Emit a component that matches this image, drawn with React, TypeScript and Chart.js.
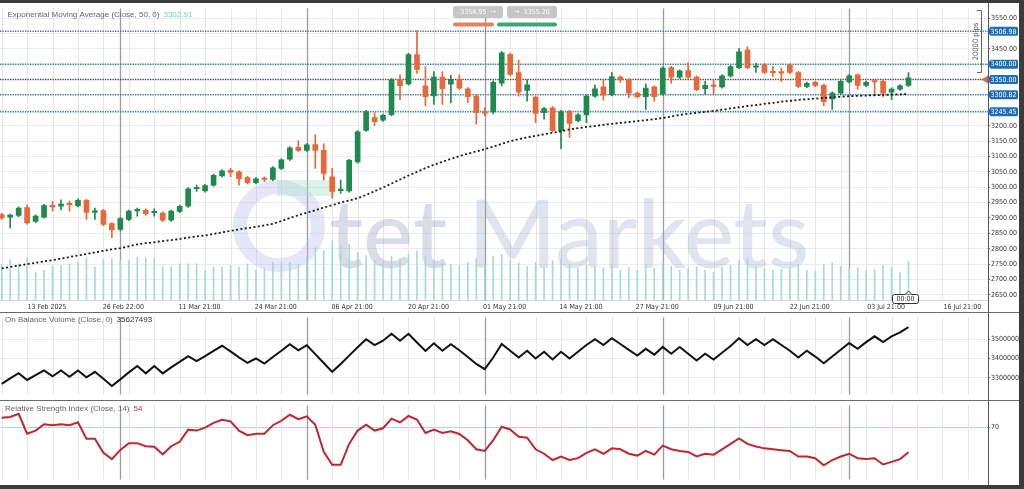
import React, { useEffect, useRef } from 'react';
import { Chart, registerables } from 'chart.js';

Chart.register(...registerables);

// ---------------- data ----------------
const OPEN = [2911,2903,2908,2934,2889,2903,2938,2938,2946,2940,2957,2918,2924,2882,2863,2895,2923,2925,2917,2916,2893,2921,2938,2995,2988,3007,3037,3055,3050,3031,3015,3027,3025,3061,3091,3130,3120,3139,3120,3034,2989,2988,3082,3185,3226,3218,3236,3349,3336,3431,3330,3297,3358,3335,3351,3320,3296,3242,3245,3338,3432,3373,3315,3293,3242,3258,3184,3246,3216,3235,3296,3326,3301,3358,3349,3306,3294,3326,3303,3389,3358,3379,3358,3320,3333,3326,3362,3389,3447,3390,3397,3374,3373,3397,3373,3328,3341,3331,3287,3306,3342,3365,3331,3344,3344,3309,3319,3331];
const HIGH = [2915,2913,2936,2943,2910,2944,2954,2959,2955,2962,2961,2932,2928,2885,2902,2926,2932,2930,2930,2920,2926,2942,2999,3007,3009,3043,3057,3061,3054,3035,3031,3034,3067,3093,3132,3152,3142,3171,3141,3061,3023,3091,3184,3250,3242,3238,3353,3365,3435,3509,3392,3376,3376,3364,3365,3324,3300,3258,3346,3442,3436,3413,3349,3297,3260,3262,3250,3250,3239,3300,3333,3349,3373,3362,3353,3310,3336,3330,3391,3393,3382,3405,3362,3345,3349,3366,3396,3451,3457,3403,3401,3392,3387,3401,3377,3342,3345,3335,3310,3348,3366,3369,3345,3349,3348,3323,3334,3373];
const LOW = [2895,2868,2904,2880,2885,2899,2922,2926,2922,2936,2895,2895,2875,2836,2858,2891,2906,2908,2906,2888,2889,2917,2934,2986,2984,3003,3033,3034,3007,3011,3011,3018,3021,3057,3087,3116,3116,3061,3023,2964,2980,2984,3078,3181,3200,3214,3232,3285,3332,3370,3264,3269,3269,3274,3318,3274,3205,3232,3238,3329,3363,3296,3280,3210,3221,3180,3125,3162,3212,3210,3292,3283,3297,3341,3290,3290,3253,3280,3299,3338,3354,3354,3313,3301,3301,3322,3358,3385,3385,3373,3369,3360,3344,3369,3324,3324,3327,3264,3253,3302,3338,3319,3327,3303,3294,3285,3315,3327];
const CLOSE = [2900,2909,2932,2884,2906,2940,2936,2945,2943,2957,2918,2922,2879,2861,2898,2922,2926,2914,2919,2893,2922,2938,2995,2997,3005,3039,3053,3048,3027,3015,3027,3025,3063,3089,3128,3120,3138,3120,3045,2986,2992,3087,3180,3246,3213,3234,3349,3330,3431,3383,3294,3358,3320,3351,3322,3294,3242,3240,3341,3437,3367,3309,3333,3240,3256,3184,3246,3207,3235,3296,3320,3299,3360,3349,3306,3294,3322,3294,3387,3358,3378,3358,3317,3331,3328,3362,3392,3440,3389,3392,3373,3372,3371,3373,3328,3338,3331,3278,3306,3344,3362,3331,3341,3342,3306,3319,3330,3356];
// tick volume (thousands)
const VOLUME = [36,40.7,36.7,42.7,28.3,30,35,35,36.7,38.3,42.7,33.3,41.7,41.7,40,40,43.3,42.7,41.7,34,34,36.7,36.7,36.7,30,33.3,33.3,35,33.3,36.7,30,31.7,38.3,38.3,38.3,36.7,43.3,53.3,50,60,55,56.7,48.3,45,40,38,44,42,46,50,44,40,38,36,35,38,42,36,44,46,40,38,34,38,33,40,42,36,32,36,34,33,36,30,33,30,35,32,38,34,30,32,34,30,28,33,35,40,42,34,32,30,31,33,36,30,29,36,38,34,32,33,30,31,35,33,28,39];
const EMA50 = [2736,2741,2745,2750,2754,2759,2763,2768,2773,2778,2783,2788,2793,2798,2802,2808,2814,2818,2821,2825,2828,2832,2836,2840,2843,2848,2853,2858,2863,2867,2871,2876,2881,2890,2900,2909,2917,2925,2934,2942,2950,2957,2964,2975,2987,2999,3012,3025,3038,3050,3062,3073,3083,3092,3101,3109,3116,3124,3132,3141,3150,3156,3162,3167,3172,3177,3182,3188,3192,3196,3199,3203,3206,3209,3212,3215,3218,3221,3225,3230,3235,3239,3242,3245,3248,3252,3256,3260,3264,3267,3271,3274,3278,3281,3284,3286,3288,3290,3292,3294,3296,3297,3298,3299,3300,3301,3302,3302.91];
// On Balance Volume, millions
const OBV_M = [32.69,32.97,33.24,32.89,33.14,33.38,33.08,33.38,33.05,33.38,33.03,33.31,32.95,32.58,32.92,33.28,33.61,33.23,33.61,33.23,33.54,33.83,34.12,33.86,34.12,34.40,34.66,34.37,34.06,33.77,34.00,33.74,34.08,34.40,34.74,34.42,34.69,34.23,33.77,33.31,33.72,34.15,34.58,35.00,34.69,34.92,35.28,34.92,35.28,34.83,34.39,34.79,34.40,34.74,34.43,34.08,33.72,33.45,34.05,34.75,34.40,34.05,34.40,34.00,34.35,33.95,34.35,34.00,34.35,34.70,35.00,34.70,35.05,34.75,34.45,34.15,34.50,34.20,34.60,34.25,34.60,34.25,33.90,34.25,33.95,34.30,34.65,35.05,34.70,35.00,34.70,35.00,34.70,34.40,34.05,34.40,34.10,33.75,34.10,34.45,34.80,34.50,34.85,35.15,34.85,35.15,35.35,35.63];
const RSI14 = [76.4,77.0,79.0,66.1,68.1,72.2,71.6,72.2,71.6,73.5,62.8,62.8,53.6,49.5,55.5,59.9,59.9,57.9,57.5,52.6,57.9,60.8,68.7,68.1,70.0,73.1,75.1,74.1,68.1,65.1,66.1,66.1,71.6,74.5,78.4,75.5,77.4,71.9,54.3,45.8,45.8,59.4,68.1,71.9,68.1,69.6,75.9,73.5,77.6,75.3,66.5,68.8,66.5,67.7,65.9,61.8,55.9,54.8,61.8,70.6,68.8,64.1,63.5,55.9,53.0,48.9,51.2,48.9,50.1,53.6,55.9,53.0,56.5,55.9,53.0,51.8,54.8,52.4,58.3,55.9,54.8,54.2,51.2,53.0,52.4,55.9,59.4,63.0,59.4,57.7,56.5,55.9,55.3,54.8,51.2,51.2,50.1,45.4,48.9,51.2,53.0,50.1,49.5,50.1,46.0,47.7,49.5,54.0];

const LABEL_BARS = [5, 14, 23, 32, 41, 50, 59, 68, 77, 86, 95, 104, 113];
const X_LABELS = ['13 Feb 2025', '26 Feb 22:00', '11 Mar 21:00', '24 Mar 21:00', '06 Apr 21:00', '20 Apr 21:00', '01 May 21:00', '14 May 21:00', '27 May 21:00', '09 Jun 21:00', '22 Jun 21:00', '03 Jul 21:00', '16 Jul 21:00'];
const PERIOD_BARS = [14, 36, 57, 78, 100];
const PRICE_TICKS = [2650,2700,2750,2800,2850,2900,2950,3000,3050,3100,3150,3200,3250,3300,3350,3400,3450,3500,3550];
const LEVELS = [3506.98, 3400.0, 3300.82, 3245.45];
const CURRENT_PRICE = 3350.0;
const OBV_TICKS = [33, 34, 35];
const RSI_TICKS = [70];
const EMA_LAST = '3302.91';
const OBV_LAST = '35627493';
const RSI_LAST = '54';

// ---------------- styling ----------------
const W = 1019;
const X_MIN = -0.2;
const X_MAX = 116.38;
const LABEL_SHIFT = 0.35;
const GREEN = '#1e8a4e';
const ORANGE = '#e8683b';
const AXIS_FONT = "'DejaVu Sans Condensed', 'DejaVu Sans', sans-serif";
const TITLE_FONT = "'Liberation Sans', Arial, sans-serif";
const AXIS_X = 988.5;

const candleColors = CLOSE.map((c, i) => (c >= OPEN[i] ? GREEN : ORANGE));

function drawVGrid(chart) {
  const { ctx, chartArea: a, scales } = chart;
  const x = scales.x;
  ctx.save();
  ctx.beginPath();
  ctx.rect(a.left, a.top, a.right - a.left, a.bottom - a.top);
  ctx.clip();
  ctx.lineWidth = 1;
  ctx.strokeStyle = '#e6e6e6';
  for (let i = 0; i <= X_MAX; i += 3) {
    const px = Math.round(x.getPixelForValue(i)) + 0.5;
    ctx.beginPath();
    ctx.moveTo(px, a.top);
    ctx.lineTo(px, a.bottom);
    ctx.stroke();
  }
  ctx.strokeStyle = '#9c9c9c';
  ctx.lineWidth = 1.3;
  for (const b of PERIOD_BARS) {
    const px = Math.round(x.getPixelForValue(b)) + 0.5;
    ctx.beginPath();
    ctx.moveTo(px, a.top);
    ctx.lineTo(px, a.bottom);
    ctx.stroke();
  }
  ctx.restore();
}

function drawAxisLine(chart, from, to) {
  const { ctx } = chart;
  ctx.save();
  ctx.strokeStyle = '#555';
  ctx.lineWidth = 1;
  ctx.beginPath();
  ctx.moveTo(AXIS_X, from);
  ctx.lineTo(AXIS_X, to);
  ctx.stroke();
  ctx.restore();
}

function drawSeparator(chart) {
  const { ctx } = chart;
  ctx.save();
  ctx.strokeStyle = '#6a6a6a';
  ctx.lineWidth = 1;
  ctx.beginPath();
  ctx.moveTo(0, 0.5);
  ctx.lineTo(W, 0.5);
  ctx.stroke();
  ctx.restore();
}

function drawTitle(ctx, x, y, text, value, valueColor) {
  ctx.save();
  ctx.font = `8px ${TITLE_FONT}`;
  ctx.textBaseline = 'middle';
  ctx.textAlign = 'left';
  ctx.fillStyle = '#666';
  ctx.fillText(text, x, y);
  const w = ctx.measureText(text).width;
  ctx.fillStyle = valueColor;
  ctx.fillText(value, x + w + 4, y);
  ctx.restore();
}

function roundRect(ctx, x, y, w, h, r) {
  ctx.beginPath();
  ctx.moveTo(x + r, y);
  ctx.lineTo(x + w - r, y);
  ctx.quadraticCurveTo(x + w, y, x + w, y + r);
  ctx.lineTo(x + w, y + h - r);
  ctx.quadraticCurveTo(x + w, y + h, x + w - r, y + h);
  ctx.lineTo(x + r, y + h);
  ctx.quadraticCurveTo(x, y + h, x, y + h - r);
  ctx.lineTo(x, y + r);
  ctx.quadraticCurveTo(x, y, x + r, y);
  ctx.closePath();
}

function drawTag(ctx, y, text) {
  const x0 = 989, x1 = 1018, h = 9;
  ctx.save();
  ctx.fillStyle = '#1c6fb6';
  ctx.beginPath();
  ctx.moveTo(x0 - 1.5, y);
  ctx.lineTo(x0 + 1.5, y - h / 2);
  ctx.lineTo(x1 - 1.5, y - h / 2);
  ctx.quadraticCurveTo(x1, y - h / 2, x1, y - h / 2 + 1.5);
  ctx.lineTo(x1, y + h / 2 - 1.5);
  ctx.quadraticCurveTo(x1, y + h / 2, x1 - 1.5, y + h / 2);
  ctx.lineTo(x0 + 1.5, y + h / 2);
  ctx.closePath();
  ctx.fill();
  ctx.fillStyle = '#fff';
  ctx.font = `7px ${AXIS_FONT}`;
  ctx.textAlign = 'left';
  ctx.textBaseline = 'middle';
  ctx.fillText(text, 990.5, y + 0.5);
  ctx.restore();
}

const mainPlugin = {
  id: 'mainPlugin',
  beforeDatasetsDraw(chart) {
    const { ctx, chartArea: a, scales } = chart;
    drawVGrid(chart);
    // watermark
    ctx.save();
    ctx.beginPath();
    ctx.rect(a.left, a.top, a.right - a.left, a.bottom - a.top);
    ctx.clip();
    ctx.lineWidth = 14;
    ctx.strokeStyle = 'rgba(185,185,238,0.36)';
    ctx.beginPath();
    ctx.arc(279, 223, 39, 0, Math.PI * 2);
    ctx.stroke();
    ctx.fillStyle = 'rgba(165,228,200,0.40)';
    ctx.fillRect(277, 177, 58, 16);
    ctx.textBaseline = 'alphabetic';
    ctx.textAlign = 'left';
    ctx.font = "500 95px Lato, 'Open Sans', sans-serif";
    ctx.fillStyle = 'rgba(150,160,190,0.36)';
    ctx.fillText('tet', 329, 265);
    ctx.fillStyle = 'rgba(165,175,205,0.34)';
    ctx.fillText('Markets', 468, 265);
    ctx.restore();
    // horizontal levels
    const y = scales.y;
    ctx.save();
    ctx.lineWidth = 1.6;
    ctx.setLineDash([1.3, 1.2]);
    for (const lv of LEVELS) {
      const py = y.getPixelForValue(lv);
      ctx.strokeStyle = '#2e7e9e';
      ctx.beginPath();
      ctx.moveTo(a.left, py);
      ctx.lineTo(a.right, py);
      ctx.stroke();
    }
    const pc = y.getPixelForValue(CURRENT_PRICE);
    ctx.strokeStyle = '#4a4a4a';
    ctx.beginPath();
    ctx.moveTo(a.left, pc);
    ctx.lineTo(a.right, pc);
    ctx.stroke();
    ctx.restore();
  },
  afterDraw(chart) {
    const { ctx, scales } = chart;
    const y = scales.y;
    drawAxisLine(chart, 0, chart.height);
    for (const lv of LEVELS) drawTag(ctx, y.getPixelForValue(lv), lv.toFixed(2));
    const pc = y.getPixelForValue(CURRENT_PRICE);
    drawTag(ctx, pc, CURRENT_PRICE.toFixed(2));
    ctx.save();
    ctx.fillStyle = '#e8603c';
    ctx.beginPath();
    ctx.moveTo(981.5, pc);
    ctx.lineTo(988, pc - 4);
    ctx.lineTo(988, pc + 4);
    ctx.closePath();
    ctx.fill();
    ctx.restore();

    drawTitle(ctx, 7.5, 11.3, 'Exponential Moving Average (Close, 50, 0)', EMA_LAST, '#72d1bd');

    // top price boxes
    ctx.save();
    ctx.fillStyle = '#c6c6c6';
    roundRect(ctx, 453, 3, 50, 12, 2.5); ctx.fill();
    roundRect(ctx, 507, 3, 50, 12, 2.5); ctx.fill();
    ctx.fillStyle = '#e9835f';
    roundRect(ctx, 453, 19.5, 41, 4, 2); ctx.fill();
    ctx.fillStyle = '#3da57a';
    roundRect(ctx, 497, 19.5, 60, 4, 2); ctx.fill();
    ctx.fillStyle = '#fff';
    ctx.font = `7px ${AXIS_FONT}`;
    ctx.textBaseline = 'middle';
    ctx.textAlign = 'center';
    ctx.fillText('3354.95  \u2192', 478, 9.5);
    ctx.fillText('\u2192  3355.20', 532, 9.5);
    ctx.restore();

    // pips bracket
    ctx.save();
    ctx.strokeStyle = '#666';
    ctx.lineWidth = 1;
    ctx.beginPath();
    ctx.moveTo(977, 7.5);
    ctx.lineTo(981.5, 7.5);
    ctx.lineTo(981.5, 69.5);
    ctx.lineTo(977, 69.5);
    ctx.stroke();
    ctx.translate(976, 38.5);
    ctx.rotate(-Math.PI / 2);
    ctx.fillStyle = '#555';
    ctx.font = `7.5px ${AXIS_FONT}`;
    ctx.textAlign = 'center';
    ctx.textBaseline = 'middle';
    ctx.fillText('20000 pips', 0, 0);
    ctx.restore();

    // time box
    ctx.save();
    ctx.fillStyle = '#fff';
    ctx.strokeStyle = '#333';
    ctx.lineWidth = 1;
    roundRect(ctx, 892.5, 291.5, 26, 9, 2);
    ctx.fill();
    ctx.stroke();
    ctx.beginPath();
    ctx.moveTo(905, 291.5);
    ctx.lineTo(908.5, 288);
    ctx.lineTo(912, 291.5);
    ctx.fill();
    ctx.stroke();
    ctx.fillStyle = '#333';
    ctx.font = `7px ${AXIS_FONT}`;
    ctx.textAlign = 'center';
    ctx.textBaseline = 'middle';
    ctx.fillText('00:00', 905.5, 296.5);
    ctx.restore();
  },
};

const obvPlugin = {
  id: 'obvPlugin',
  beforeDatasetsDraw(chart) { drawVGrid(chart); },
  afterDraw(chart) {
    drawSeparator(chart);
    drawAxisLine(chart, 0, chart.height);
    drawTitle(chart.ctx, 5, 7.5, 'On Balance Volume (Close, 0)', OBV_LAST, '#333');
  },
};

const rsiPlugin = {
  id: 'rsiPlugin',
  beforeDatasetsDraw(chart) { drawVGrid(chart); },
  afterDraw(chart) {
    drawSeparator(chart);
    drawAxisLine(chart, 0, chart.height);
    drawTitle(chart.ctx, 5, 8.3, 'Relative Strength Index (Close, 14)', RSI_LAST, '#c0392b');
  },
};

const tickFont = { family: AXIS_FONT, size: 7 };
const nearLevel = (v) => [...LEVELS, CURRENT_PRICE].some((l) => Math.abs(l - v) < 20);

function mainConfig(): any {
  return {
    type: 'bar',
    data: {
      datasets: [
        { type: 'line', label: 'EMA 50', data: EMA50.map((v, i) => ({ x: i, y: v })), yAxisID: 'y', borderColor: '#1a1a1a', borderWidth: 1.8, borderDash: [2, 2.4], pointRadius: 0, tension: 0, order: 0 },
        { type: 'bar', label: 'Body', data: OPEN.map((o, i) => ({ x: i, y: [o, CLOSE[i]] })), yAxisID: 'y', backgroundColor: candleColors, barThickness: 5, minBarLength: 1.5, grouped: false, order: 1 },
        { type: 'bar', label: 'Wick', data: HIGH.map((h, i) => ({ x: i, y: [LOW[i], h] })), yAxisID: 'y', backgroundColor: candleColors, barThickness: 1, grouped: false, order: 2 },
        { type: 'bar', label: 'Volume', data: VOLUME.map((v, i) => ({ x: i, y: v })), yAxisID: 'yVol', backgroundColor: '#a7d9dc', barThickness: 1, grouped: false, order: 3 },
      ],
    },
    options: {
      animation: false,
      responsive: false,
      events: [],
      layout: { padding: { top: 1, left: 0, right: 0, bottom: 0 } },
      plugins: { legend: { display: false }, tooltip: { enabled: false } },
      scales: {
        x: {
          type: 'linear', min: X_MIN, max: X_MAX, offset: false,
          afterBuildTicks: (s) => { s.ticks = LABEL_BARS.map((b) => ({ value: b + LABEL_SHIFT })); },
          ticks: { autoSkip: false, maxRotation: 0, minRotation: 0, padding: 3, color: '#333', font: tickFont, callback: (v, idx) => X_LABELS[idx] },
          grid: { display: false, drawTicks: false, offset: false },
          border: { display: true, color: '#d6d6d6' },
          afterFit: (s) => { s.height = 12; },
        },
        y: {
          position: 'right', min: 2633.3, max: 3582,
          afterBuildTicks: (s) => { s.ticks = PRICE_TICKS.map((v) => ({ value: v })); },
          ticks: { padding: 1, color: '#333', font: tickFont, callback: (v) => (nearLevel(v) ? '' : Number(v).toFixed(2)) },
          grid: { color: '#ececec', tickLength: 2, tickColor: '#666' },
          border: { display: false },
          afterFit: (s) => { s.width = W - AXIS_X + 0.5; },
        },
        yVol: { display: false, min: 0, max: 296 },
      },
    },
    plugins: [mainPlugin],
  };
}

function subConfig(values, color, min, max, ticks, fmt, gridColor, padding, plugin): any {
  return {
    type: 'line',
    data: {
      datasets: [
        { data: values.map((v, i) => ({ x: i, y: v })), borderColor: color, borderWidth: 2, pointRadius: 0, tension: 0 },
      ],
    },
    options: {
      animation: false,
      responsive: false,
      events: [],
      layout: { padding },
      plugins: { legend: { display: false }, tooltip: { enabled: false } },
      scales: {
        x: { type: 'linear', min: X_MIN, max: X_MAX, display: false, offset: false },
        y: {
          position: 'right', min, max,
          afterBuildTicks: (s) => { s.ticks = ticks.map((v) => ({ value: v })); },
          ticks: { padding: 1, color: '#333', font: tickFont, callback: fmt },
          grid: { color: gridColor, tickLength: 2, tickColor: '#666' },
          border: { display: false },
          afterFit: (s) => { s.width = W - AXIS_X + 0.5; },
        },
      },
    },
    plugins: [plugin],
  };
}

export default function App() {
  const aRef = useRef<HTMLCanvasElement>(null);
  const bRef = useRef<HTMLCanvasElement>(null);
  const cRef = useRef<HTMLCanvasElement>(null);

  useEffect(() => {
    const charts = [
      new Chart(aRef.current as HTMLCanvasElement, mainConfig()),
      new Chart(bRef.current as HTMLCanvasElement, subConfig(OBV_M, '#111', 32.12, 36.14, OBV_TICKS, (v) => (Number(v) * 1e6).toFixed(0), '#ececec', { top: 1, bottom: 0, left: 0, right: 0 }, obvPlugin)),
      new Chart(cRef.current as HTMLCanvasElement, subConfig(RSI14, '#c0272d', 36.0, 84.65, RSI_TICKS, (v) => String(v), '#a6dcdc', { top: 1, bottom: 1, left: 0, right: 0 }, rsiPlugin)),
    ];
    return () => charts.forEach((c) => c.destroy());
  }, []);

  return (
    <div style={{ position: 'fixed', left: 0, top: 0, width: 1024, height: 489, background: '#3b3b3b', overflow: 'hidden' }}>
      <div style={{ position: 'absolute', left: 0, top: 3, width: W, height: 482, background: '#fff' }} />
      <canvas ref={aRef} width={W} height={309} style={{ position: 'absolute', left: 0, top: 3, width: W, height: 309 }} />
      <canvas ref={bRef} width={W} height={88} style={{ position: 'absolute', left: 0, top: 312, width: W, height: 88 }} />
      <canvas ref={cRef} width={W} height={85} style={{ position: 'absolute', left: 0, top: 400, width: W, height: 85 }} />
    </div>
  );
}
